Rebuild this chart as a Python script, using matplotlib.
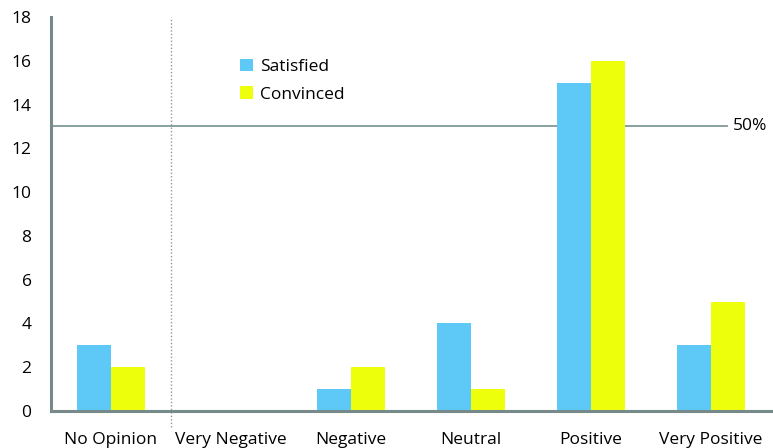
import matplotlib
matplotlib.use("Agg")
import matplotlib.pyplot as plt
import numpy as np

categories = ["No Opinion", "Very Negative", "Negative", "Neutral", "Positive", "Very Positive"]
satisfied = [3, 0, 1, 4, 15, 3]
convinced = [2, 0, 2, 1, 16, 5]
threshold = 13
threshold_label = "50%"
yticks = [0, 2, 4, 6, 8, 10, 12, 14, 16, 18]

plt.rcParams['font.family'] = ['Open Sans', 'DejaVu Sans']
fs = 12.5

fig = plt.figure(figsize=(7.73, 4.48), dpi=100)
ax = fig.add_axes([51/773, 1-411/448, 720/773, 394/448])

x = np.arange(len(categories))
w = 0.28
blue = "#5EC8F7"
yellow = "#EEFF0C"
ax.bar(x - w/2, satisfied, width=w, color=blue, label="Satisfied", zorder=2)
ax.bar(x + w/2, convinced, width=w, color=yellow, label="Convinced", zorder=2)

ax.set_xlim(-0.5, len(categories) - 0.5)
ax.set_ylim(0, 18)
ax.set_yticks(yticks)
ax.set_xticks(x)
ax.set_xticklabels(categories, fontsize=fs)
ax.tick_params(axis='y', labelsize=fs, length=0, pad=14)
ax.tick_params(axis='x', length=0, pad=15)

spine_c = "#768A8A"
for s in ["top", "right"]:
    ax.spines[s].set_visible(False)
ax.spines["left"].set_color(spine_c)
ax.spines["bottom"].set_color(spine_c)
ax.spines["left"].set_linewidth(2.2)
ax.spines["bottom"].set_linewidth(2.2)

ax.plot([-0.5, 5.13], [threshold, threshold], color="#7F9898", lw=1.3, zorder=1, clip_on=False)
ax.text(5.18, threshold, threshold_label, va="center", ha="left", fontsize=fs)

ax.plot([0.5, 0.5], [-0.75, 18], color="#8A9C9C", lw=1.0, ls=(0, (1, 1.5)), clip_on=False, zorder=1)

leg = ax.legend(loc="upper left", bbox_to_anchor=(231/773, 1-50/448), bbox_transform=fig.transFigure,
                frameon=False, fontsize=fs, handlelength=0.75, handleheight=0.75,
                handletextpad=0.4, labelspacing=0.65, borderpad=0)

fig.savefig("out.png", dpi=100)
